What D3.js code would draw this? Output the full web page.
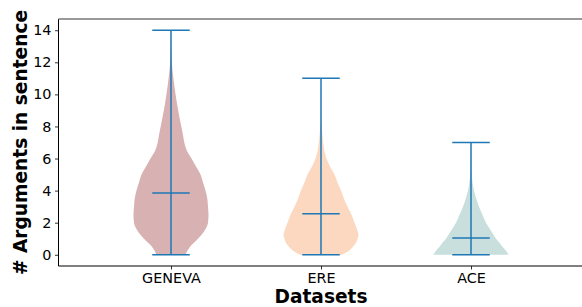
<!DOCTYPE html>
<html><head><meta charset="utf-8">
<script src="https://cdn.jsdelivr.net/npm/d3@7"></script>
<style>body{margin:0;background:#fff}svg{display:block}text{font-family:"DejaVu Sans",sans-serif}</style>
</head><body>
<svg id="c" width="582" height="307"></svg>
<script>
const datasets = ["GENEVA", "ERE", "ACE"];
const positions = [1, 2, 3];
const fills = ["#d8b2b2", "#fcd8c0", "#c8dfdd"];
const means = [3.85, 2.55, 1.04];
const mins = [0, 0, 0];
const maxs = [14, 11, 7];
// density outline (value, relative half-width)
const genevaProfile = [[0,14.5],[0.5,19],[1,27],[1.5,33.5],[2,37],[2.5,37.5],[3,37],[3.5,36.3],[4,34.5],[4.5,32],[5,29.5],[5.5,25],[6,20.5],[6.5,15.8],[7,13.3],[7.5,11.9],[8,10.3],[8.5,8.7],[9,7.2],[9.5,5.8],[10,4.6],[10.5,3.4],[11,2.4],[11.5,1.5],[12,0.9],[12.5,0.5],[13,0.25],[13.5,0.12],[14,0.05]];
const ereProfile = [[0,21],[0.25,28],[0.5,32],[0.75,35],[1,36.5],[1.25,37.5],[1.5,36.5],[2,33.5],[2.5,30.5],[3,26.5],[3.5,23],[4,20],[4.5,16.5],[5,13.5],[5.5,9],[6,5.5],[6.5,3.3],[7,2.2],[7.5,1.4],[8,0.8],[8.5,0.4],[9,0.2],[10,0.05],[11,0]];
const aceProfile = [[0,37.5],[0.25,35],[0.5,31.5],[0.75,28.5],[1,25],[1.25,22.5],[1.5,20],[2,15],[2.5,11.5],[3,8],[3.5,5.3],[4,3],[4.5,1.6],[5,0.8],[5.5,0.4],[6,0.2],[6.5,0.1],[7,0.03]];
const profiles = [genevaProfile, ereProfile, aceProfile];
const yTicks = [0, 2, 4, 6, 8, 10, 12, 14];

const svg = d3.select("#c");
const L = 58.5, R = 583.5, T = 19, B = 266;
const x = d3.scaleLinear().domain([0.25, 3.75]).range([L, R]);
const y = d3.scaleLinear().domain([-0.7, 14.7]).range([B, T]);
const unit = x(1) - x(0);
const violinWidth = 0.5;

profiles.forEach((prof, i) => {
  const c = positions[i];
  const mx = d3.max(prof, d => d[1]);
  const w = d3.scaleLinear().domain([0, mx]).range([0, violinWidth / 2 * unit]);
  const area = d3.area()
    .y(d => y(d[0]))
    .x0(d => x(c) - w(d[1]))
    .x1(d => x(c) + w(d[1]))
    .curve(d3.curveMonotoneY);
  svg.append("path").attr("d", area(prof)).attr("fill", fills[i]).attr("stroke", "none");
});

const blue = "#1f77b4";
positions.forEach((c, i) => {
  svg.append("line").attr("x1", x(c)).attr("x2", x(c)).attr("y1", y(mins[i])).attr("y2", y(maxs[i]))
    .attr("stroke", blue).attr("stroke-width", 1.5);
  [mins[i], maxs[i], means[i]].forEach(v => {
    svg.append("line").attr("x1", x(c - 0.125)).attr("x2", x(c + 0.125)).attr("y1", y(v)).attr("y2", y(v))
      .attr("stroke", blue).attr("stroke-width", 1.5);
  });
});

// axes
const yAxis = d3.axisLeft(y).tickValues(yTicks).tickSize(3.5).tickPadding(3.5);
const gy = svg.append("g").attr("transform", `translate(${L},0)`).call(yAxis);
gy.select(".domain").remove();
gy.selectAll("text").attr("font-size", 14.4).attr("fill", "#000").attr("font-family", "DejaVu Sans");
gy.selectAll("line").attr("stroke", "#000").attr("stroke-width", 0.8);

const xAxis = d3.axisBottom(x).tickValues(positions).tickFormat((d, i) => datasets[i]).tickSize(3.5).tickPadding(3.5);
const gx = svg.append("g").attr("transform", `translate(0,${B})`).call(xAxis);
gx.select(".domain").remove();
gx.selectAll("text").attr("font-size", 14.4).attr("fill", "#000").attr("font-family", "DejaVu Sans");
gx.selectAll("line").attr("stroke", "#000").attr("stroke-width", 0.8);

svg.append("line").attr("x1", L).attr("x2", L).attr("y1", T).attr("y2", B).attr("stroke", "#000").attr("stroke-width", 1);
svg.append("line").attr("x1", L).attr("x2", 582).attr("y1", B).attr("y2", B).attr("stroke", "#000").attr("stroke-width", 1);
svg.append("line").attr("x1", L).attr("x2", 582).attr("y1", T).attr("y2", T).attr("stroke", "#777").attr("stroke-width", 1.5);

svg.append("text").attr("x", x(2)).attr("y", 303).attr("text-anchor", "middle")
  .attr("font-size", 18.6).attr("font-weight", "bold").text("Datasets");
svg.append("text").attr("transform", `translate(26.5,${(T + B) / 2}) rotate(-90)`).attr("text-anchor", "middle")
  .attr("font-size", 18.6).attr("font-weight", "bold").text("# Arguments in sentence");
</script>
</body></html>
